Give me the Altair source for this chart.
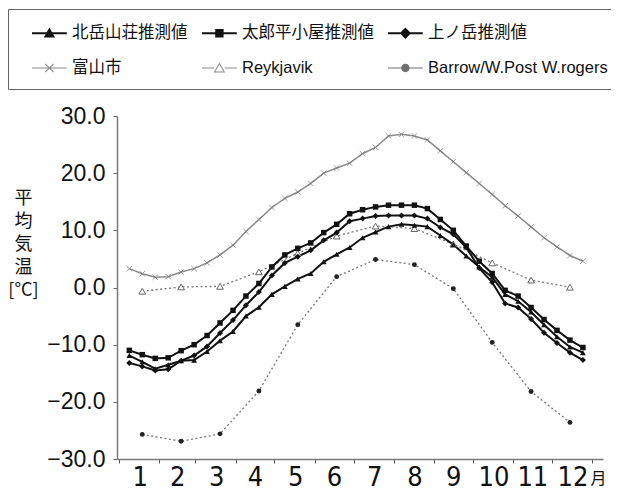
import json
import altair as alt
import pandas as pd

# ---------------- data ----------------
series_names = ["北岳山荘推測値", "太郎平小屋推測値", "上ノ岳推測値",
                "富山市", "Reykjavik", "Barrow/W.Post W.rogers"]
month_labels = [str(m) for m in range(1, 13)]
month_start_day = [0, 31, 59, 90, 120, 151, 181, 212, 243, 273, 304, 334, 365]
month_label_day = [16, 45, 75, 105, 136, 166, 197, 228, 258, 289, 319, 350]
dekad_day = [8 + 10 * i for i in range(36)]      # 3 values per month
monthly_day = [18 + 30 * i for i in range(12)]   # mid-month
y_ticks = [-30, -20, -10, 0, 10, 20, 30]

kitadake = [-11.9, -13.0, -14.2, -13.5, -12.8, -12.7, -11.2, -9.3, -7.7, -5.0,
            -3.45, -1.2, 0.2, 1.5, 2.45, 4.5, 5.8, 7.0, 8.7, 9.7,
            10.65, 11.05, 10.9, 10.65, 9.1, 7.5, 5.5, 3.6, 1.8, -1.2,
            -2.4, -4.3, -6.5, -8.6, -10.4, -11.4]
taroudaira = [-11.0, -11.75, -12.4, -12.3, -11.05, -10.0, -8.4, -6.2, -4.0, -1.5,
              0.7, 3.6, 5.7, 6.85, 7.8, 9.6, 11.05, 12.9, 13.6, 14.1,
              14.4, 14.4, 14.4, 13.8, 11.9, 10.0, 7.25, 4.6, 2.45, -0.5,
              -1.5, -3.5, -5.6, -7.5, -9.2, -10.5]
kaminodake = [-13.2, -13.8, -14.5, -14.3, -12.8, -11.9, -10.3, -7.95, -5.7, -3.1,
              -0.8, 2.1, 4.3, 5.4, 6.5, 8.25, 9.6, 11.6, 12.05, 12.5,
              12.6, 12.6, 12.6, 12.05, 10.5, 9.3, 7.0, 3.4, 0.9, -2.8,
              -3.5, -5.5, -7.9, -9.7, -11.4, -12.7]
toyama = [3.3, 2.4, 1.8, 1.9, 2.7, 3.3, 4.3, 5.7, 7.4, 9.8,
          11.9, 14.0, 15.6, 16.7, 18.2, 20.0, 20.9, 21.75, 23.4, 24.5,
          26.5, 26.8, 26.5, 25.8, 23.9, 22.0, 20.1, 18.2, 16.3, 14.3,
          12.5, 10.6, 8.7, 7.1, 5.6, 4.6]
reykjavik = [-0.65, 0.1, 0.2, 2.75, 6.0, 9.0, 10.75, 10.3, 7.6, 4.3, 1.3, 0.05]
barrow = [-25.7, -26.9, -25.6, -18.1, -6.5, 1.9, 4.9, 4.0, -0.2, -9.6, -18.2, -23.6]

# ---------------- styles ----------------
DARK = "#111111"
GRAY = "#8a8a8a"
FONT_LATIN = "Liberation Sans, Arial, Noto Sans CJK JP"
FONT_CJK = "Noto Sans CJK JP, Liberation Sans"

# legend symbols: line + marker drawn as filled paths
legend_paths = [
    "M0,-0.085H2.9V0.085H0Z M1.45,-0.48L1.92,0.36L0.98,0.36Z",
    "M0,-0.085H2.9V0.085H0Z M1.1,-0.35H1.8V0.35H1.1Z",
    "M0,-0.085H2.9V0.085H0Z M1.45,-0.48L1.92,0L1.45,0.48L0.98,0Z",
    "M0,-0.045H2.9V0.045H0Z M1.135,-0.385L1.835,0.315L1.765,0.385L1.065,-0.315Z "
    "M1.065,0.315L1.765,-0.385L1.835,-0.315L1.135,0.385Z",
    "M0,-0.045H1.0V0.045H0Z M1.9,-0.045H2.9V0.045H1.9Z "
    "M1.45,-0.46L1.93,0.38L0.97,0.38Z M1.45,-0.3L1.11,0.3L1.79,0.3Z",
    "M0,-0.045H2.9V0.045H0Z M1.8,0A0.35,0.35 0 1,1 1.1,0A0.35,0.35 0 1,1 1.8,0Z",
]
legend_colors = [DARK, DARK, DARK, GRAY, GRAY, "#6f6f6f"]

label_list = json.dumps(month_label_day)
start_list = json.dumps(month_start_day)
label_expr = (f"indexof({label_list}, datum.value) >= 0 ? "
              f"{json.dumps(month_labels)}[indexof({label_list}, datum.value)] : ''")

x_axis = alt.Axis(
    values=sorted(month_start_day + month_label_day),
    labelExpr=label_expr,
    tickOpacity={"condition": {"test": f"indexof({start_list}, datum.value) >= 0", "value": 1}, "value": 0},
    tickSize=4, tickColor="#555555", tickWidth=1,
    domainColor="#7a7a7a", domainWidth=1.5,
    labelFontSize=27, labelFont="Liberation Sans Narrow, DejaVu Sans Condensed, Liberation Sans",
    labelColor=DARK, labelPadding=1, labelFlush=False, labelOverlap=False, grid=False,
    title="月", titleFontSize=16, titleFont=FONT_CJK, titleFontWeight="normal",
    titleX=481, titleY=19, titleAlign="center", titleBaseline="middle", titleColor=DARK,
)
y_axis = alt.Axis(
    values=y_ticks, format=".1f",
    labelFontSize=23, labelFont=FONT_LATIN, labelColor=DARK, labelPadding=8,
    tickSize=4, tickColor="#666666", domainColor="#7a7a7a", domainWidth=1.5,
    grid=False, labelFlush=False, labelOverlap=False,
    title=["平", "均", "気", "温", "[°C]"], titleAngle=0, titleX=-94, titleY=73,
    titleAlign="center", titleBaseline="top", titleFontSize=18, titleFont=FONT_CJK,
    titleFontWeight="normal", titleLineHeight=23, titleColor=DARK,
)


def enc(base):
    return base.encode(
        x=alt.X("day:Q", scale=alt.Scale(domain=[-1.5, 373.5], nice=False, zero=False), axis=x_axis),
        y=alt.Y("temp:Q", scale=alt.Scale(domain=[-30, 30], nice=False, zero=False), axis=y_axis),
    )


def frame(name, days, values):
    return pd.DataFrame({"series": name, "day": days, "temp": values})


frames = [
    frame(series_names[0], dekad_day, kitadake),
    frame(series_names[1], dekad_day, taroudaira),
    frame(series_names[2], dekad_day, kaminodake),
    frame(series_names[3], dekad_day, toyama),
    frame(series_names[4], monthly_day, reykjavik),
    frame(series_names[5], monthly_day, barrow),
]

layers = []
# lines
layers.append(enc(alt.Chart(frames[3]).mark_line(color=GRAY, strokeWidth=1.5)))
layers.append(enc(alt.Chart(frames[4]).mark_line(color="#777777", strokeWidth=1.3, strokeDash=[2, 2.5])))
layers.append(enc(alt.Chart(frames[5]).mark_line(color="#777777", strokeWidth=1.3, strokeDash=[2, 2.5])))
for f in frames[:3]:
    layers.append(enc(alt.Chart(f).mark_line(color=DARK, strokeWidth=2)))
# markers
layers.append(enc(alt.Chart(frames[3]).mark_point(shape="M-1,-1L1,1M-1,1L1,-1", filled=False,
                                                   color="#777777", strokeWidth=1, size=30)))
layers.append(enc(alt.Chart(frames[4]).mark_point(shape="triangle-up", filled=False, fill="white",
                                                   stroke="#666666", strokeWidth=1, size=45, opacity=1)))
layers.append(enc(alt.Chart(frames[5]).mark_point(shape="circle", filled=True, color="#222222",
                                                   size=24, opacity=1)))
layers.append(enc(alt.Chart(frames[0]).mark_point(shape="triangle-up", filled=True, color=DARK,
                                                   size=34, opacity=1)))
layers.append(enc(alt.Chart(frames[1]).mark_point(shape="square", filled=True, color=DARK,
                                                   size=30, opacity=1)))
layers.append(enc(alt.Chart(frames[2]).mark_point(shape="diamond", filled=True, color=DARK,
                                                   size=36, opacity=1)))

# legend-only layer
legend_df = pd.concat(frames, ignore_index=True)
leg = alt.Legend(
    title=None, orient="none", legendX=-109, legendY=-107, columns=3, direction="horizontal",
    gridAlign="each", columnPadding=2, rowPadding=14, padding=12, strokeColor="#666666",
    symbolSize=576, symbolOpacity=1, symbolStrokeWidth=0,
    labelFontSize=16.5, labelFont=FONT_LATIN, labelColor=DARK, labelOffset=28, labelLimit=400,
)
legend_layer = enc(alt.Chart(legend_df).mark_point(filled=True, opacity=0)).encode(
    color=alt.Color("series:N", scale=alt.Scale(domain=series_names, range=legend_colors), legend=leg),
    shape=alt.Shape("series:N", scale=alt.Scale(domain=series_names, range=legend_paths), legend=leg),
)
layers.append(legend_layer)

chart = alt.layer(*layers).properties(
    width=486, height=343,
    padding={"left": 109, "top": 108, "right": 8, "bottom": 40},
    autosize=alt.AutoSizeParams(type="none"),
    background="white",
).configure_view(stroke=None)

chart.save("out.html", embed_options={"renderer": "svg", "actions": False})
